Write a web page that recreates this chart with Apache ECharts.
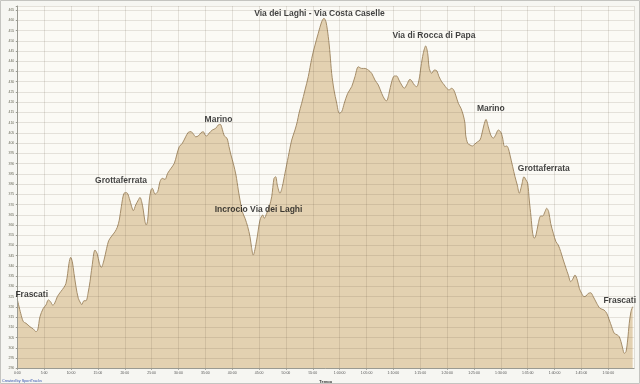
<!DOCTYPE html>
<html>
<head>
<meta charset="utf-8">
<script src="https://cdn.jsdelivr.net/npm/echarts@6/dist/echarts.min.js"></script>
<style>
html,body{margin:0;padding:0;background:#f6f6f2;}
#c{width:640px;height:384px;}
</style>
</head>
<body>
<div id="c"></div>
<script>
// elapsed time in minutes
var times = [0,0.63,1.12,1.62,2.36,2.98,3.48,3.8,4.22,4.84,5.34,5.77,6.2,6.58,6.9,7.45,8.08,8.7,9.06,9.38,9.62,9.93,10.24,10.55,10.92,11.35,11.8,11.98,12.41,12.79,13.16,13.53,13.9,14.46,14.89,15.27,15.63,16.14,16.63,17.0,17.57,18.18,18.61,18.98,19.36,19.86,20.36,20.85,21.29,21.6,22.04,22.52,22.84,23.15,23.45,23.77,24.01,24.27,24.57,24.88,25.13,25.63,26.13,26.56,26.99,27.49,27.99,28.61,29.22,29.67,30.15,30.71,31.34,31.83,32.33,32.76,33.2,33.69,34.19,34.62,34.93,35.25,35.68,36.29,36.92,37.41,37.78,38.15,38.53,39.03,39.4,39.77,40.2,40.7,41.13,41.45,41.88,42.38,42.88,43.31,43.6,43.9,44.56,45.17,45.67,45.98,46.42,46.9,47.35,47.78,48.09,48.39,48.89,49.32,49.82,50.44,51.07,51.68,52.11,52.43,52.93,53.55,54.16,54.8,55.41,56.02,56.65,57.08,57.45,57.88,58.2,58.51,58.94,59.45,59.93,60.38,60.86,61.49,62.24,62.85,63.47,64.1,64.71,65.33,65.96,66.57,67.19,67.82,68.44,68.75,69.18,69.68,70.17,70.61,71.04,71.54,72.03,72.47,73.09,73.52,73.89,74.34,74.76,75.13,75.56,76.01,76.38,76.68,77.13,77.61,78.06,78.49,78.99,79.47,79.92,80.35,80.85,81.22,81.59,82.08,82.58,83.0,83.32,83.45,83.83,84.25,84.68,85.18,85.68,86.11,86.42,86.86,87.23,87.66,88.11,88.59,89.04,89.52,89.97,90.28,90.71,91.09,91.38,91.7,92.2,92.63,93.06,93.43,93.88,94.3,94.68,94.99,95.29,95.61,95.92,96.22,96.54,96.97,97.41,97.79,98.21,98.53,98.9,99.27,99.76,100.26,100.69,101.14,101.62,102.12,102.55,103.0,103.37,103.8,104.23,104.6,105.04,105.47,105.85,106.27,106.72,107.2,107.83,108.45,109.19,109.7,110.18,110.63,111.11,111.67,112.04,112.36,112.67,112.97,113.29,113.6,113.9,114.22,114.53];
// altitude in metres
var altitudes = [323.7,316.9,312.8,312.0,310.3,309.2,307.9,308.7,315.2,319.3,320.9,323.4,322.5,320.9,321.4,325,327.4,329.6,331.5,336.4,341.3,344.2,342.1,336.4,329.9,324.2,321.8,321.1,323,323,326.6,332.3,339.6,347.8,345.8,341.3,339.3,342.9,348.6,352.3,354.6,356.7,358.9,362.4,368.9,375.5,375.8,373,368.9,367,369.8,372.2,373.5,371.4,367.3,361.6,360,362.4,372.2,377.1,377.9,375.1,376.3,381.2,382.8,382.3,385.3,387.7,390.1,394.2,398.3,399.9,403.1,405.3,405.6,404.5,403.1,403.5,405.1,405.6,404,403.5,404.8,406.4,407.2,408.9,409.2,406.8,403.5,402.4,398.3,394.2,390.1,384.4,377.1,372.2,366.5,363.3,359.2,354.3,349,345.3,352.7,362.4,364.9,363.3,365.7,368.9,373.8,382.8,383.6,379.5,375.5,378.7,385.3,393.4,401.5,406.4,410.5,414.6,419.5,426,432.5,441.4,447.9,453.7,459.3,461,459.3,452,443.9,434.1,426,419.5,414.6,415.4,419.5,424.3,427.6,432.5,437.3,436.5,436.5,435.7,434.1,430.8,428.4,424.3,421.1,420.7,424.3,430,432.8,432.8,430.8,428.4,426.8,428.4,431.2,430,428.4,427.6,430.8,437.3,443.9,447.5,443.9,436.5,434.1,435.7,435.4,432.5,430,428.4,426.8,426,426.8,426,423.5,419.5,417,413.7,409.7,404,399.9,399.1,398.6,399.6,400.7,401.5,404,408.9,411.6,408,404,402.4,404,406.4,405.5,403.1,398.3,398.6,397.5,394.2,388.5,383.6,379.5,375.5,379.5,383.6,382,380.4,372.2,364.1,356,353.5,355.1,360.8,364.4,364.4,366.5,368.2,366.5,360.8,356,351.8,350.2,347,342.9,338.9,335.6,332.3,333.5,335.6,333.1,329.1,326.6,325,325.3,326.6,326.9,325,321.8,319.3,318.5,316.9,313.6,310.3,307.1,306.3,305.4,303,299.8,297.3,298.1,303.8,312,317.7,320.1];

// place-name annotations (time in minutes, altitude in metres)
var placeNames = ["Frascati","Grottaferrata","Marino","Incrocio Via dei Laghi","Via dei Laghi - Via Costa Caselle","Via di Rocca di Papa","Marino","Grottaferrata","Frascati"];
var placeTimes = [2.68,19.3,37.45,44.9,56.24,77.55,88.13,97.99,112.12];
var placeAlts  = [325.8,381.7,411.6,367.7,463.2,452.3,417,387.4,323];

var yAxisTitle = "Altezza (metri)";
var xAxisTitle = "Tempo";
var creditText = "Created by SportTracks";

function pad(n){return (n<10?'0':'')+n;}
function fmtTime(v){
  if (Math.abs(v - Math.round(v)) > 1e-6 || Math.round(v) % 5 !== 0) return '';
  v = Math.round(v);
  if (v < 60) return v + ':00';
  return Math.floor(v/60) + ':' + pad(v%60) + ':00';
}

var chart = echarts.init(document.getElementById('c'), null, {renderer:'canvas'});
var gridColor = 'rgba(90,80,60,0.14)';
chart.setOption({
  animation:false,
  backgroundColor:'#f6f6f2',
  textStyle:{fontFamily:'Liberation Sans, Arial, sans-serif'},
  grid:{left:17.3, right:5.9, top:6, bottom:15.7, show:true, backgroundColor:'#fbfaf5', borderWidth:0, containLabel:false, outerBoundsMode:'none'},
  xAxis:{
    type:'value', min:0, max:114.8, interval:5, z:3,
    name:xAxisTitle, nameLocation:'middle', nameGap:7,
    nameTextStyle:{fontSize:4, fontWeight:'bold', color:'#333'},
    axisLine:{show:true, lineStyle:{color:'#9a9a92', width:1}},
    axisTick:{show:true, length:1.5, lineStyle:{color:'#9a9a92'}},
    axisLabel:{fontSize:3.5, color:'#555', margin:2.5, formatter:fmtTime, showMaxLabel:false},
    splitLine:{show:true, lineStyle:{color:gridColor, width:1}}
  },
  yAxis:{
    type:'value', min:290, max:467, interval:5, z:3,
    name:yAxisTitle, nameLocation:'middle', nameGap:12, nameRotate:90,
    nameTextStyle:{fontSize:4, color:'#8a7440'},
    axisLine:{show:true, lineStyle:{color:'#9a9a92', width:1}},
    axisTick:{show:true, length:1.5, lineStyle:{color:'#9a9a92'}},
    axisLabel:{fontSize:3.5, color:'#6a6a5a', margin:3, formatter:function(v){return (v%5===0)?String(v):'';}},
    splitLine:{show:true, lineStyle:{color:gridColor, width:1}}
  },
  series:[
    {
      type:'line', z:2, symbol:'none', smooth:0.3,
      data:times.map(function(t,i){return [t, altitudes[i]];}),
      lineStyle:{color:'#a58d69', width:1},
      areaStyle:{color:'#e3d1b1', opacity:1, origin:'start'}
    },
    {
      type:'scatter', z:10, symbolSize:0, clip:false, silent:true,
      data:placeNames.map(function(n,i){return {value:[placeTimes[i], placeAlts[i]], name:n};}),
      label:{show:true, position:'inside', formatter:function(p){return p.name;},
        fontSize:8.5, fontWeight:'bold', color:'#111', fontFamily:'Liberation Sans, Arial, sans-serif'}
    }
  ],
  graphic:[
    {type:'text', left:2, top:378.5, style:{text:creditText, fontSize:3.8, fill:'#3050b0', fontFamily:'Liberation Sans, Arial, sans-serif'}},
    {type:'rect', shape:{x:0.5, y:0.5, width:639, height:383}, style:{fill:null, stroke:'#c4c4c0', lineWidth:1}, z:100}
  ]
});
</script>
</body>
</html>
